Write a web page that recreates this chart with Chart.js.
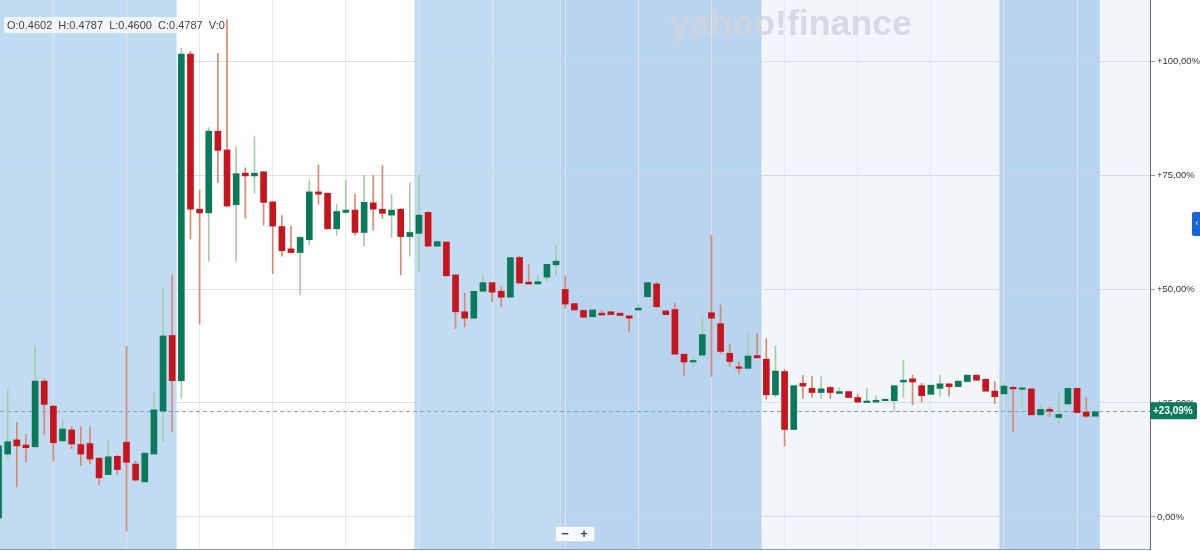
<!DOCTYPE html>
<html>
<head>
<meta charset="utf-8">
<script src="https://cdn.jsdelivr.net/npm/chart.js@4.4.0/dist/chart.umd.min.js"></script>
<style>
  html, body { margin: 0; padding: 0; background: #fff; }
  #wrap { width: 1200px; height: 551px; }
</style>
</head>
<body>
<div id="wrap"><canvas id="chart" width="1200" height="551"></canvas></div>
<script>
// Bougies en % de variation
const open = [
  -0.2, 13.8, 16.9, 15.8, 15.4, 29.8, 24.3, 16.7, 19.1, 15.9,
  16.1, 12.9, 9.3, 13.3, 16.4, 11.6, 7.7, 13.8, 23.2, 39.8,
  29.9, 101.5, 67.5, 66.7, 84.6, 80.5, 68.5, 75.4, 74.8, 75.7,
  69.1, 63.7, 58.8, 58.0, 60.8, 71.3, 71.0, 63.2, 66.8, 67.3,
  62.4, 68.9, 67.5, 66.2, 67.5, 61.5, 62.2, 66.8, 59.4, 60.3,
  53.1, 45.0, 43.6, 49.5, 51.4, 49.5, 48.2, 56.9, 51.5, 51.1,
  52.6, 55.3, 49.9, 46.8, 45.3, 43.9, 44.7, 45.0, 44.7, 44.1,
  45.4, 48.3, 51.1, 45.2, 45.5, 35.7, 34.0, 35.5, 44.8, 42.4,
  35.9, 32.8, 32.6, 35.4, 34.6, 26.8, 31.9, 19.2, 29.3, 28.2,
  27.3, 28.4, 27.1, 27.5, 26.2, 25.1, 25.2, 25.5, 25.5, 29.6,
  30.3, 28.8, 26.9, 28.2, 29.2, 28.6, 29.7, 31.1, 30.2, 27.6,
  27.0, 28.4, 28.0, 28.1, 22.4, 23.6, 21.8, 24.8, 28.2, 23.0,
  22.1
];
const high = [
  15.8, 28.1, 20.7, 18.2, 37.5, 30.3, 24.5, 21.3, 19.8, 19.8,
  19.8, 13.0, 16.9, 13.5, 37.5, 12.3, 14.0, 27.5, 50.2, 53.1,
  102.8, 102.1, 71.7, 85.4, 101.7, 109.1, 81.2, 76.6, 83.4, 75.8,
  69.2, 66.1, 63.8, 61.5, 73.9, 77.2, 71.1, 68.6, 73.9, 70.8,
  74.9, 74.9, 77.1, 70.7, 67.6, 73.3, 75.0, 66.9, 60.5, 60.4,
  53.1, 49.1, 49.5, 53.1, 51.4, 50.5, 56.9, 57.2, 55.4, 53.1,
  55.4, 59.5, 52.9, 46.8, 45.4, 45.4, 45.2, 45.1, 44.7, 44.1,
  46.7, 51.4, 51.5, 45.2, 46.9, 35.7, 35.2, 44.1, 61.8, 46.5,
  37.9, 34.1, 40.5, 40.3, 39.1, 37.5, 32.4, 28.8, 31.1, 30.8,
  30.8, 28.6, 28.4, 27.5, 26.8, 28.1, 26.5, 25.7, 28.8, 34.3,
  31.1, 29.3, 28.9, 31.1, 29.2, 29.8, 31.1, 31.1, 30.3, 29.7,
  29.3, 28.7, 28.2, 28.1, 24.9, 24.0, 27.1, 28.2, 28.2, 26.2,
  23.1
];
const low = [
  -0.5, 12.7, 6.6, 12.1, 15.2, 18.0, 12.3, 16.4, 15.0, 11.3,
  11.7, 7.0, 9.3, 9.4, -3.1, 7.9, 7.7, 13.8, 16.5, 18.7,
  26.1, 61.0, 42.3, 56.1, 73.3, 68.0, 56.1, 65.5, 71.0, 64.0,
  53.4, 57.2, 58.0, 48.7, 59.7, 68.6, 63.2, 61.8, 66.6, 61.8,
  59.5, 62.9, 65.5, 61.3, 53.1, 57.2, 53.8, 59.4, 59.3, 52.8,
  41.3, 41.7, 43.6, 49.4, 47.2, 46.1, 48.2, 51.3, 51.1, 51.1,
  51.6, 53.1, 45.8, 45.4, 43.7, 43.9, 44.3, 44.4, 44.2, 40.6,
  45.4, 48.1, 46.0, 44.4, 35.7, 31.0, 33.0, 35.4, 30.8, 35.9,
  33.0, 31.4, 32.5, 34.9, 25.8, 26.3, 15.6, 19.2, 26.0, 26.2,
  26.0, 26.0, 27.1, 26.2, 25.1, 25.1, 25.2, 25.5, 23.1, 26.2,
  24.6, 25.2, 26.9, 26.5, 26.5, 28.6, 29.7, 30.0, 27.5, 24.9,
  27.0, 18.7, 24.0, 22.4, 22.4, 22.0, 20.3, 24.8, 22.9, 21.8,
  22.1
];
const close = [
  15.6, 16.5, 15.6, 15.2, 29.8, 24.7, 16.3, 19.3, 16.0, 13.8,
  12.7, 8.6, 13.2, 10.4, 12.0, 8.1, 14.0, 23.5, 39.7, 29.9,
  101.5, 67.5, 66.7, 84.6, 80.4, 68.2, 75.3, 74.8, 75.4, 69.0,
  63.8, 58.4, 58.0, 61.3, 71.3, 70.8, 63.2, 67.0, 67.3, 62.4,
  69.0, 67.5, 66.6, 67.3, 61.5, 62.4, 66.2, 59.4, 60.4, 52.9,
  45.0, 43.6, 49.5, 51.4, 49.3, 48.2, 56.9, 51.3, 51.1, 51.6,
  55.4, 56.1, 46.7, 45.4, 43.8, 45.4, 44.3, 44.4, 44.2, 43.6,
  45.8, 51.4, 46.1, 44.4, 35.7, 34.0, 34.3, 40.0, 43.6, 36.3,
  34.1, 32.6, 35.3, 34.9, 26.8, 32.0, 19.2, 28.8, 28.7, 27.3,
  28.1, 27.3, 27.5, 26.2, 25.2, 25.3, 25.6, 25.7, 28.8, 30.0,
  29.6, 26.6, 28.9, 29.2, 28.6, 29.8, 31.1, 30.0, 27.6, 26.4,
  28.7, 28.1, 28.1, 22.4, 23.6, 23.2, 22.5, 28.2, 22.9, 22.1,
  23.09
];

// Séances (bornes entre bougies) et type de fond
const sessionEdges = [19.5, 45.5, 61.5, 83.5, 109.5, 120.5];
const sessionKinds = ['pre', 'regular', 'pre', 'post', 'light', 'post', 'light'];

const yTicks = [0, 25, 50, 75, 100];
const gridIdx = [6, 14, 22, 30, 38, 46, 54, 62, 70, 78, 86, 94, 102, 110, 118];
const infoText = 'O:0.4602  H:0.4787  L:0.4600  C:0.4787  V:0';

const UP = '#0a7a5a', DOWN = '#c8141c';
const UP_WICK = '#a3d0a3', DOWN_WICK = '#d8896f';
const bandColors = { pre: '#c0dbf2', regular: '#ffffff', post: '#b8d4ef', light: '#f2f6fa' };
const FONT = '"Liberation Sans", Arial, sans-serif';

function fmtPct(v) {
    const s = v.toFixed(2).replace('.', ',') + '%';
    return v > 0 ? '+' + s : s;
}

const isUp = open.map((o, i) => close[i] >= o);

// Fonds de séance + habillage
const bandPlugin = {
    id: 'bands',
    beforeDraw(chart) {
        const { ctx, chartArea: a, scales: { x } } = chart;
        ctx.save();
        ctx.fillStyle = '#fff';
        ctx.fillRect(0, 0, chart.width, chart.height);
        let from = a.left;
        sessionKinds.forEach((k, j) => {
            const to = j < sessionEdges.length ? x.getPixelForValue(sessionEdges[j]) : a.right;
            ctx.fillStyle = bandColors[k];
            ctx.fillRect(from, a.top, to - from, a.bottom - a.top);
            from = to;
        });
        ctx.restore();
    },
    beforeDatasetsDraw(chart) {
        const { ctx, chartArea: a, scales: { y } } = chart;
        ctx.save();
        // filigrane
        ctx.font = '900 36px ' + FONT;
        const w = ctx.measureText('yahoo!finance').width;
        ctx.font = '900 ' + (36 * 242 / w).toFixed(1) + 'px ' + FONT;
        ctx.fillStyle = 'rgba(208,212,219,0.85)';
        ctx.textBaseline = 'alphabetic';
        ctx.fillText('yahoo!finance', 670, 35);
        // ligne du dernier cours
        const yl = Math.round(y.getPixelForValue(close[close.length - 1])) - 0.5;
        ctx.strokeStyle = '#7ea8ae';
        ctx.lineWidth = 1;
        ctx.setLineDash([4, 3]);
        ctx.beginPath();
        ctx.moveTo(a.left, yl);
        ctx.lineTo(a.right, yl);
        ctx.stroke();
        ctx.restore();
    },
    afterDraw(chart) {
        const { ctx, chartArea: a, scales: { y } } = chart;
        ctx.save();
        // étiquette du dernier cours
        const last = close[close.length - 1];
        const yl = y.getPixelForValue(last) - 1;
        ctx.fillStyle = UP;
        ctx.beginPath();
        ctx.roundRect(a.right, yl - 8.5, 47, 17, 2);
        ctx.fill();
        ctx.fillStyle = '#fff';
        ctx.font = 'bold 10px ' + FONT;
        ctx.textBaseline = 'middle';
        ctx.textAlign = 'left';
        ctx.fillText(fmtPct(last), a.right + 3, yl + 0.5);
        // boîte OHLC
        ctx.fillStyle = 'rgba(255,255,255,0.75)';
        ctx.beginPath();
        ctx.roundRect(4, 17, 219, 16, 3);
        ctx.fill();
        ctx.fillStyle = '#444';
        ctx.font = '11px ' + FONT;
        ctx.fillText(infoText, 7, 25.5);
        // boutons zoom
        ctx.fillStyle = 'rgba(255,255,255,0.9)';
        ctx.strokeStyle = '#d4dbe3';
        ctx.beginPath();
        ctx.roundRect(555.5, 526.5, 39, 15, 2);
        ctx.fill();
        ctx.stroke();
        ctx.fillStyle = '#444';
        ctx.font = 'bold 13px ' + FONT;
        ctx.textAlign = 'center';
        ctx.fillText('\u2212', 565, 534);
        ctx.fillText('+', 584, 534);
        // onglet bleu à droite
        ctx.fillStyle = '#1766d6';
        ctx.beginPath();
        ctx.roundRect(1192, 212, 12, 24, 2);
        ctx.fill();
        ctx.fillStyle = '#fff';
        ctx.font = '9px ' + FONT;
        ctx.fillText('\u2039', 1197, 224);
        ctx.restore();
    }
};

const ctx = document.getElementById('chart').getContext('2d');
new Chart(ctx, {
    type: 'bar',
    data: {
        datasets: [
            {
                label: 'wick',
                data: open.map((o, i) => ({ x: i, y: [low[i], high[i]] })),
                backgroundColor: isUp.map(u => u ? UP_WICK : DOWN_WICK),
                barThickness: 1,
                minBarLength: 1,
                grouped: false,
                order: 2
            },
            {
                label: 'body',
                data: open.map((o, i) => ({ x: i, y: [o, close[i]] })),
                backgroundColor: isUp.map(u => u ? UP : DOWN),
                barThickness: 6,
                minBarLength: 1.5,
                grouped: false,
                order: 1
            }
        ]
    },
    options: {
        responsive: false,
        animation: false,
        devicePixelRatio: 1,
        layout: { padding: 0 },
        plugins: { legend: { display: false }, tooltip: { enabled: false } },
        scales: {
            x: {
                type: 'linear',
                min: 0.16,
                max: 125.98,
                offset: false,
                ticks: { display: false },
                grid: { color: 'rgba(226,231,237,0.85)', drawTicks: false, offset: false },
                border: { display: true, color: '#8d99a6' },
                afterBuildTicks: s => { s.ticks = gridIdx.map(v => ({ value: v })); },
                afterFit: s => { s.height = 2; s.paddingLeft = 0; s.paddingRight = 0; }
            },
            y: {
                position: 'right',
                min: -7.02,
                max: 113.38,
                afterBuildTicks: s => { s.ticks = yTicks.map(v => ({ value: v })); },
                ticks: {
                    callback: v => fmtPct(v),
                    font: { size: 9.5, family: FONT },
                    color: '#333',
                    padding: 2
                },
                grid: { color: 'rgba(205,212,222,0.7)', tickLength: 5, tickColor: '#999' },
                border: { display: true, color: '#666' },
                afterFit: s => { s.width = 50; s.paddingTop = 0; s.paddingBottom = 0; }
            }
        }
    },
    plugins: [bandPlugin]
});
</script>
</body>
</html>
